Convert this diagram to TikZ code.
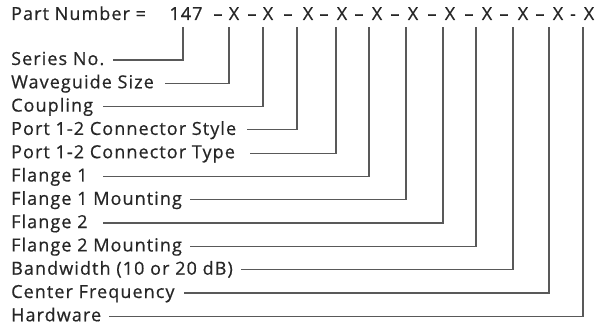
\documentclass[tikz,border=0pt]{standalone}
\usepackage{fontspec}
\setmainfont{Open Sans}[LetterSpace=6,FakeBold=0.6]
\begin{document}
\begin{tikzpicture}[x=1pt,y=-1pt,
  txt/.style={inner sep=0pt, text=black!85, font=\fontsize{18}{19}\selectfont},
  lbl/.style={txt, anchor=base west},
  hd/.style={txt, anchor=base},
  conn/.style={draw=black!65, line width=1.2pt}]
\useasboundingbox (0,0) rectangle (595,326);
\node[lbl] (pn) at (11,20) {Part Number =};
\node[hd] (n0) at (186,20) {147};
\foreach \i/\x in {1/234,2/268,3/308,4/342,5/377,6/413,7/450,8/487,9/523,10/558,11/589}
  \node[hd] (n\i) at (\x,20) {X};
\foreach \i/\x in {1/218,2/252,3/288,4/324,5/359,6/395,7/432,8/469,9/504,10/540}
  \node[hd] (d\i) at (\x,20) {–};
\node[hd] (d11) at (573,20) {-};
\foreach \i/\t/\sx/\vx in {0/Series No./113/183, 1/Waveguide Size/165/229, 2/Coupling/103/263,
  3/Port 1-2 Connector Style/247/297, 4/Port 1-2 Connector Type/250/336, 5/Flange 1/103/369,
  6/Flange 1 Mounting/190/406, 7/Flange 2/103/443, 8/Flange 2 Mounting/190/476,
  9/Bandwidth (10 or 20 dB)/241/513, 10/Center Frequency/184/549, 11/Hardware/109/583}{
  \pgfmathsetmacro\ry{60+23.3*\i}
  \node[lbl] (l\i) at (11,\ry+5) {\t};
  \coordinate (s\i) at (\sx,\ry);
  \coordinate (t\i) at (\vx,27);
  \draw[conn] (s\i) -| (t\i);
}
\end{tikzpicture}
\end{document}
